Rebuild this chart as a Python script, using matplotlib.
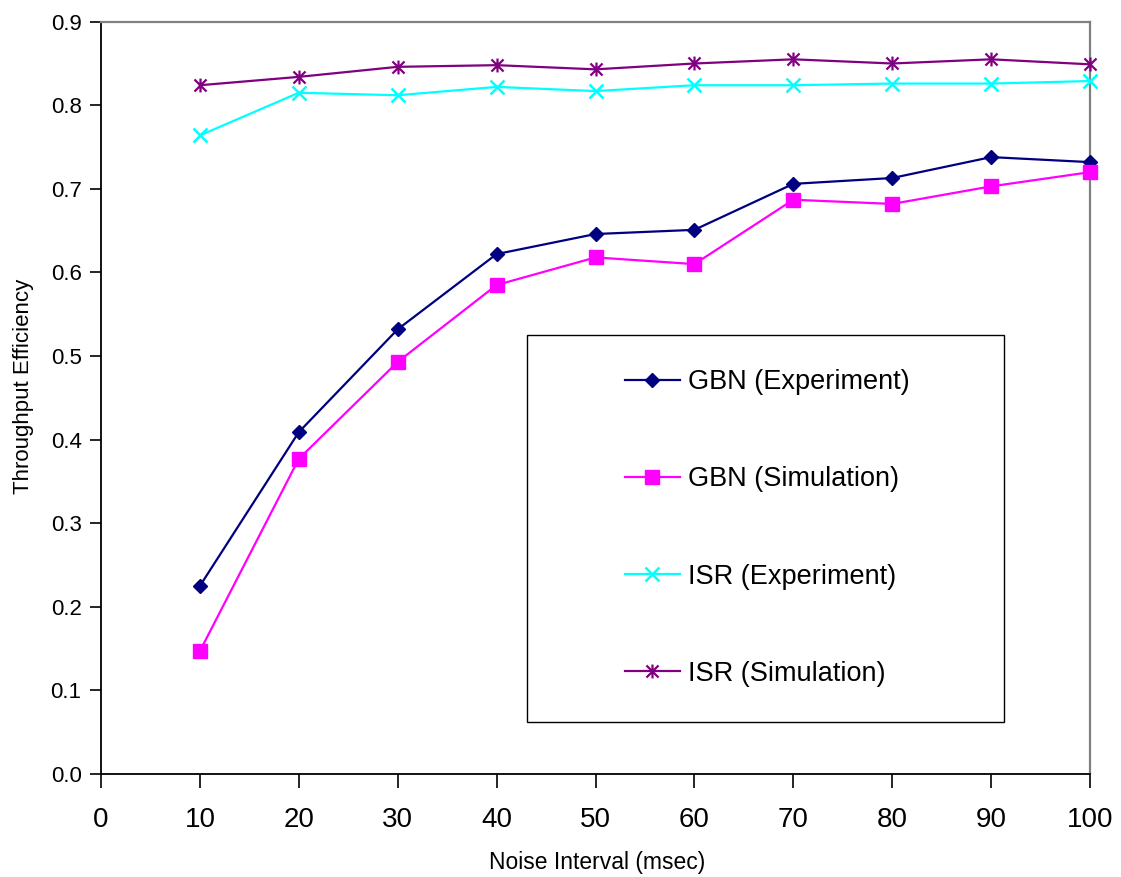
import matplotlib
matplotlib.use("Agg")
import matplotlib.pyplot as plt
from matplotlib.patches import Rectangle
from matplotlib.path import Path

plt.rcParams['font.family'] = ['Liberation Sans', 'DejaVu Sans']

noise_interval = [10, 20, 30, 40, 50, 60, 70, 80, 90, 100]
gbn_experiment = [0.225, 0.409, 0.532, 0.622, 0.646, 0.651, 0.706, 0.713, 0.738, 0.732]
gbn_simulation = [0.147, 0.377, 0.493, 0.585, 0.618, 0.610, 0.687, 0.682, 0.703, 0.720]
isr_experiment = [0.764, 0.815, 0.812, 0.822, 0.817, 0.824, 0.824, 0.826, 0.826, 0.829]
isr_simulation = [0.824, 0.834, 0.846, 0.848, 0.843, 0.850, 0.855, 0.850, 0.855, 0.849]

x_ticks = [0, 10, 20, 30, 40, 50, 60, 70, 80, 90, 100]
y_ticks = [0.0, 0.1, 0.2, 0.3, 0.4, 0.5, 0.6, 0.7, 0.8, 0.9]

# asterisk marker: an X crossed by a vertical stroke
star_path = Path(
    [(-1, -1), (1, 1), (-1, 1), (1, -1), (0, -1.15), (0, 1.15)],
    [Path.MOVETO, Path.LINETO, Path.MOVETO, Path.LINETO, Path.MOVETO, Path.LINETO],
)

W, H = 1121, 877
fig = plt.figure(figsize=(W / 100, H / 100), dpi=100)
ax = fig.add_axes([101 / W, 1 - 774 / H, (1090 - 101) / W, (774 - 21.7) / H])

series = [
    (gbn_experiment, "GBN (Experiment)", "#000080", dict(marker="D", markersize=7.5)),
    (gbn_simulation, "GBN (Simulation)", "#FF00FF", dict(marker="s", markersize=9.5)),
    (isr_experiment, "ISR (Experiment)", "#00FFFF", dict(marker="x", markersize=9.5, markeredgewidth=1.8)),
    (isr_simulation, "ISR (Simulation)", "#800080", dict(marker=star_path, markersize=10, markeredgewidth=1.6)),
]

handles = []
for vals, label, color, mk in series:
    (ln,) = ax.plot(noise_interval, vals, color=color, linewidth=1.6,
                    markerfacecolor=color, markeredgecolor=color, label=label,
                    clip_on=False, zorder=3, **mk)
    handles.append(ln)

ax.set_xlim(0, 100)
ax.set_ylim(0.0, 0.9)
ax.set_xticks(x_ticks)
ax.set_xticklabels([str(t) for t in x_ticks], fontsize=20)
ax.set_yticks(y_ticks)
ax.set_yticklabels([f"{t:.1f}" for t in y_ticks], fontsize=16)

ax.tick_params(axis="x", direction="out", length=10, width=1.2, pad=14, color="#000000")
ax.tick_params(axis="y", direction="out", length=8, width=1.2, pad=6, color="#000000")

for side in ("left", "bottom"):
    ax.spines[side].set_color("#000000")
    ax.spines[side].set_linewidth(1.3)
for side in ("top", "right"):
    ax.spines[side].set_color("#808080")
    ax.spines[side].set_linewidth(1.6)

ax.set_xlabel("Noise Interval (msec)", fontsize=16.5)
ax.set_ylabel("Throughput Efficiency", fontsize=16)
ax.xaxis.set_label_coords(0.5015, -0.103)
ax.yaxis.set_label_coords(-0.078, 0.515)
ax.yaxis.label.set_verticalalignment("center")

# legend frame
fig.patches.append(Rectangle((527 / W, 1 - 722 / H), (1004 - 527) / W, (722 - 335) / H,
                             transform=fig.transFigure, fill=True, facecolor="white",
                             edgecolor="#000000", linewidth=1.0, zorder=4))

leg = fig.legend(handles=handles, loc="center left",
                 bbox_to_anchor=(625 / W, 1 - 528 / H),
                 frameon=False, fontsize=19.5, borderpad=0, borderaxespad=0,
                 handlelength=2.03, handletextpad=0.3, labelspacing=2.63,
                 markerscale=1.0)
leg.set_zorder(5)

fig.savefig("out.png", dpi=100)
